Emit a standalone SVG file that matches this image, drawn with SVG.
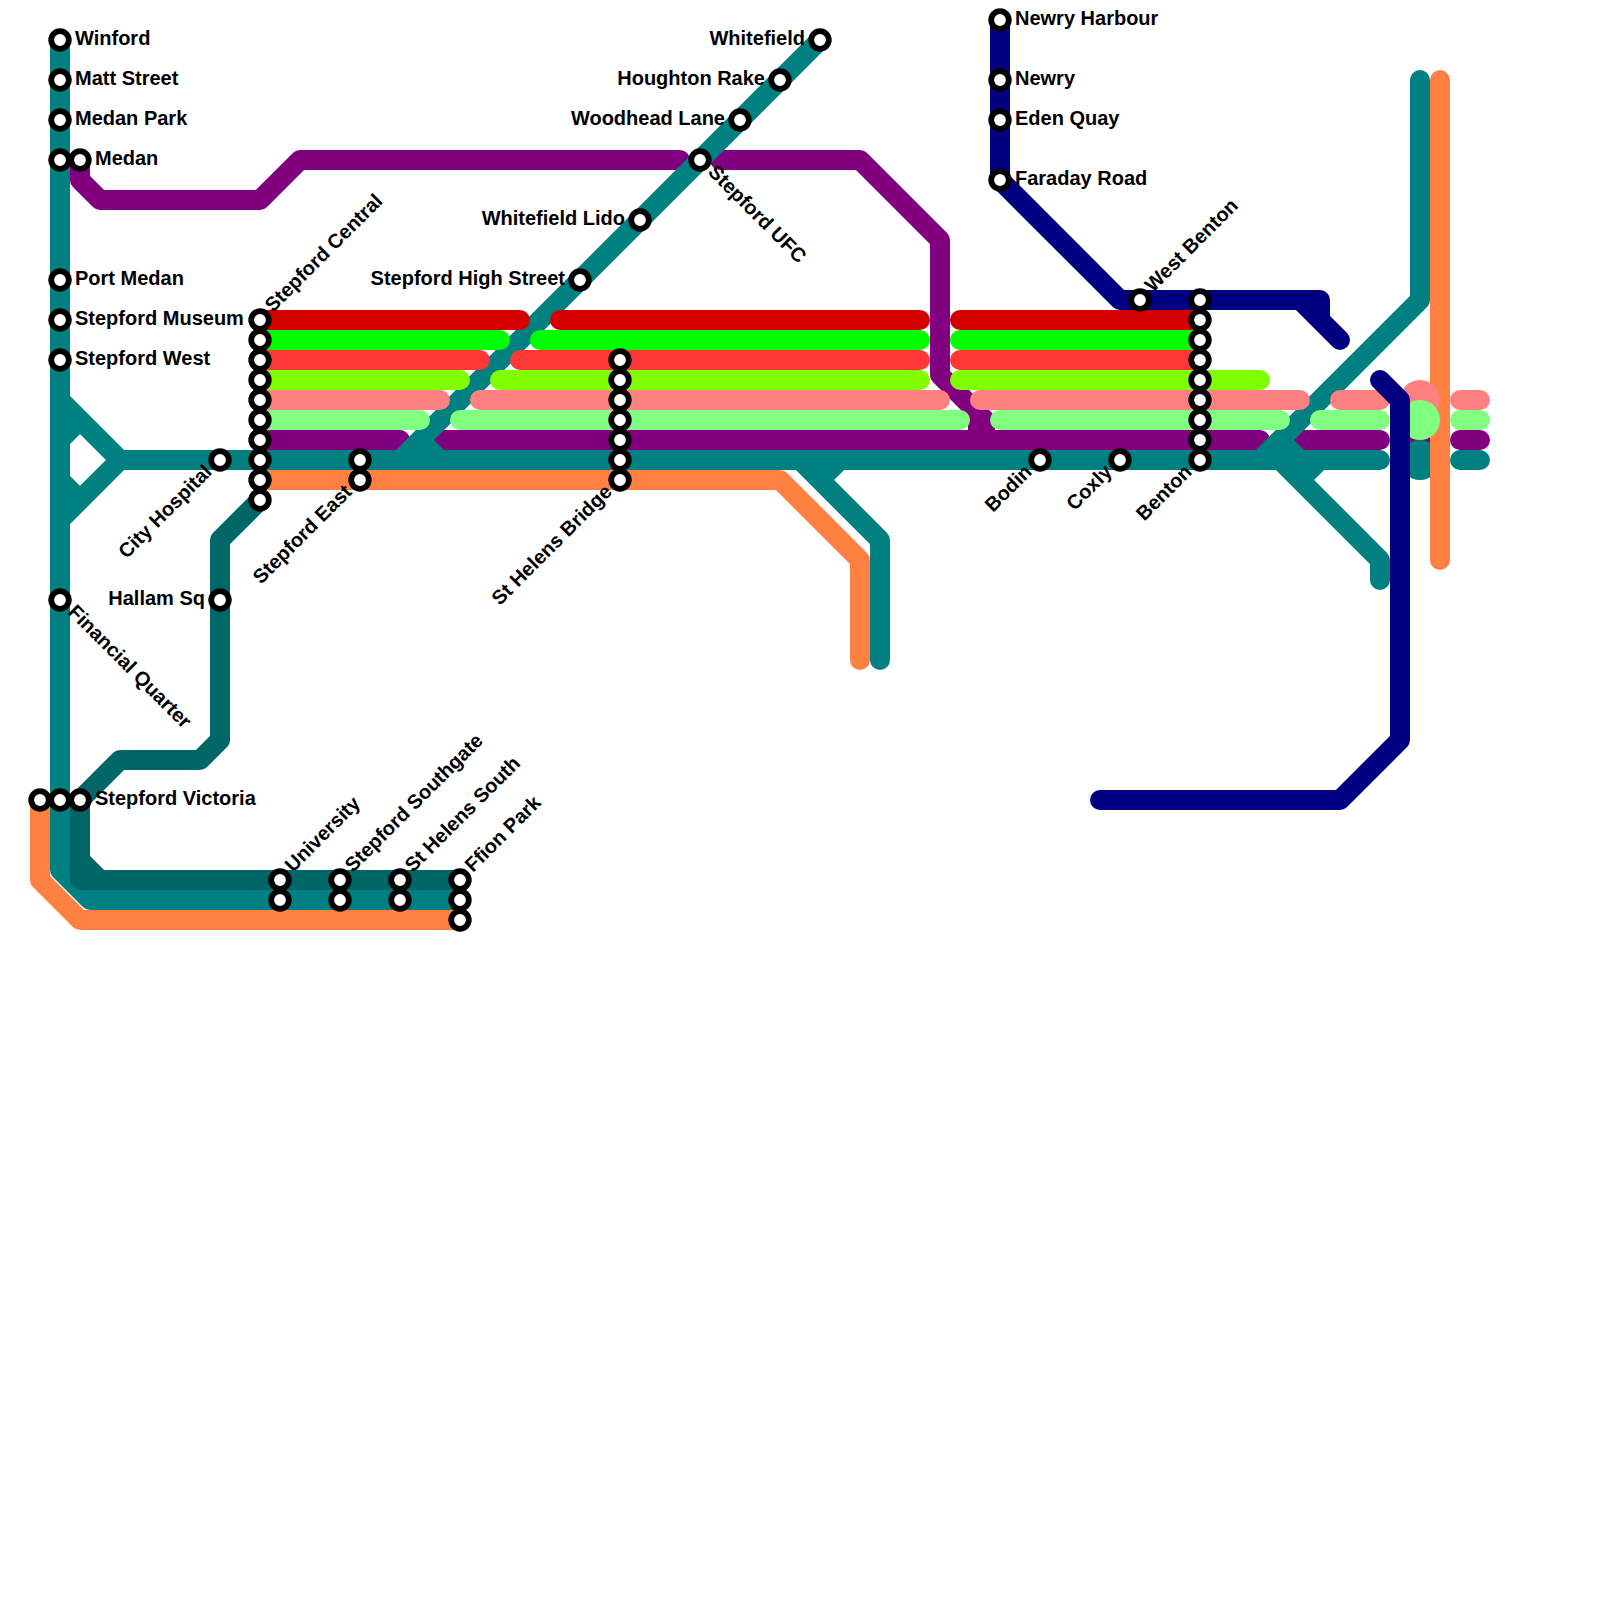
<svg xmlns="http://www.w3.org/2000/svg" width="1600" height="1600" viewBox="0 0 1600 1600">
<style>
.l{fill:none;stroke-width:20;stroke-linecap:round;stroke-linejoin:round}
.teal{stroke:#008080}.dark{stroke:#006666}.orange{stroke:#ff8040}.purple{stroke:#800080}.navy{stroke:#000080}.red{stroke:#d40000}.lime{stroke:#00ff00}.red2{stroke:#ff3737}.chart{stroke:#80ff00}.pink{stroke:#ff8080}.mint{stroke:#80ff80}
.s{fill:#fff;stroke:#000;stroke-width:5.8}
text{font-family:"Liberation Sans",Arial,sans-serif;font-size:20px;font-weight:700;fill:#000}
.e{text-anchor:end}
</style>
<rect width="1600" height="1600" fill="#fff"/>
<g id="connectors">
<circle cx="1420" cy="440" r="20" fill="#800080"/>
<circle cx="1420" cy="460" r="20" fill="#008080"/>
<path class="l orange" d="M40 800V880L80 920H460"/>
<path class="l orange" d="M260 480H780L860 560V660"/>
<path class="l orange" d="M1440 80V560"/>
<path class="l purple" d="M80 160V180L100 200H260L300 160H680M720 160H860L940 240V375L985 420V440M978 420V440"/>
<path class="l purple" d="M260 440H400M440 440H1260M1300 440H1380M1460 440H1480"/>
<path class="l teal" d="M60 40V870L90 900H460"/>
<path class="l teal" d="M60 400L120 460L60 520M60 440L80 420M60 480L80 500"/>
<path class="l teal" d="M120 460H1380M1460 460H1480"/>
<path class="l teal" d="M820 40L400 460M420 440L440 460"/>
<path class="l teal" d="M800 460L880 540V660M840 460L820 480"/>
<path class="l teal" d="M1420 80V300L1260 460M1280 440L1300 460M1280 460L1380 560V580M1320 460L1300 480"/>
<path class="l red" d="M260 320H520M560 320H920M960 320H1200"/>
<path class="l lime" d="M260 340H500M540 340H920M960 340H1200"/>
<path class="l red2" d="M260 360H480M520 360H920M960 360H1200"/>
<path class="l chart" d="M260 380H460M500 380H920M960 380H1260"/>
<circle cx="1420" cy="400" r="20" fill="#ff8080"/>
<circle cx="1420" cy="420" r="20" fill="#80ff80"/>
<path class="l pink" d="M260 400H440M480 400H940M980 400H1300M1340 400H1380M1460 400H1480"/>
<path class="l mint" d="M260 420H420M460 420H960M1000 420H1280M1320 420H1380M1460 420H1480"/>
<path class="l dark" d="M260 500L220 540V740L200 760H120L80 800V880H460M80 860L100 880"/>
<path class="l navy" d="M1000 20V180L1120 300H1320V320L1340 340M1300 300L1320 320"/>
<path class="l navy" d="M1380 380L1400 400V740L1340 800H1100"/>
</g>
<g id="n-winford"><circle class="s" cx="60" cy="40" r="8.8"/><text x="75" y="45">Winford</text></g>
<g id="n-matt-street"><circle class="s" cx="60" cy="80" r="8.8"/><text x="75" y="85">Matt Street</text></g>
<g id="n-medan-park"><circle class="s" cx="60" cy="120" r="8.8"/><text x="75" y="125">Medan Park</text></g>
<g id="n-medan"><circle class="s" cx="60" cy="160" r="8.8"/><circle class="s" cx="80" cy="160" r="8.8"/><text x="95" y="165">Medan</text></g>
<g id="n-port-medan"><circle class="s" cx="60" cy="280" r="8.8"/><text x="75" y="285">Port Medan</text></g>
<g id="n-stepford-museum"><circle class="s" cx="60" cy="320" r="8.8"/><text x="75" y="325">Stepford Museum</text></g>
<g id="n-stepford-west"><circle class="s" cx="60" cy="360" r="8.8"/><text x="75" y="365">Stepford West</text></g>
<g id="n-financial-quarter"><circle class="s" cx="60" cy="600" r="8.8"/><text transform="translate(67 613) rotate(45)">Financial Quarter</text></g>
<g id="n-stepford-victoria"><circle class="s" cx="40" cy="800" r="8.8"/><circle class="s" cx="60" cy="800" r="8.8"/><circle class="s" cx="80" cy="800" r="8.8"/><text x="95" y="805">Stepford Victoria</text></g>
<g id="n-hallam-sq"><circle class="s" cx="220" cy="600" r="8.8"/><text class="e" x="205" y="605">Hallam Sq</text></g>
<g id="n-city-hospital"><circle class="s" cx="220" cy="460" r="8.8"/><text class="e" transform="translate(213 473) rotate(-45)">City Hospital</text></g>
<g id="n-stepford-central"><circle class="s" cx="260" cy="320" r="8.8"/><circle class="s" cx="260" cy="340" r="8.8"/><circle class="s" cx="260" cy="360" r="8.8"/><circle class="s" cx="260" cy="380" r="8.8"/><circle class="s" cx="260" cy="400" r="8.8"/><circle class="s" cx="260" cy="420" r="8.8"/><circle class="s" cx="260" cy="440" r="8.8"/><circle class="s" cx="260" cy="460" r="8.8"/><circle class="s" cx="260" cy="480" r="8.8"/><circle class="s" cx="260" cy="500" r="8.8"/><text transform="translate(273 313) rotate(-45)">Stepford Central</text></g>
<g id="n-stepford-east"><circle class="s" cx="360" cy="460" r="8.8"/><circle class="s" cx="360" cy="480" r="8.8"/><text class="e" transform="translate(353 493) rotate(-45)">Stepford East</text></g>
<g id="n-st-helens-bridge"><circle class="s" cx="620" cy="360" r="8.8"/><circle class="s" cx="620" cy="380" r="8.8"/><circle class="s" cx="620" cy="400" r="8.8"/><circle class="s" cx="620" cy="420" r="8.8"/><circle class="s" cx="620" cy="440" r="8.8"/><circle class="s" cx="620" cy="460" r="8.8"/><circle class="s" cx="620" cy="480" r="8.8"/><text class="e" transform="translate(613 493) rotate(-45)">St Helens Bridge</text></g>
<g id="n-stepford-high-street"><circle class="s" cx="580" cy="280" r="8.8"/><text class="e" x="565" y="285">Stepford High Street</text></g>
<g id="n-whitefield-lido"><circle class="s" cx="640" cy="220" r="8.8"/><text class="e" x="625" y="225">Whitefield Lido</text></g>
<g id="n-stepford-ufc"><circle class="s" cx="700" cy="160" r="8.8"/><text transform="translate(707 173) rotate(45)">Stepford UFC</text></g>
<g id="n-woodhead-lane"><circle class="s" cx="740" cy="120" r="8.8"/><text class="e" x="725" y="125">Woodhead Lane</text></g>
<g id="n-houghton-rake"><circle class="s" cx="780" cy="80" r="8.8"/><text class="e" x="765" y="85">Houghton Rake</text></g>
<g id="n-whitefield"><circle class="s" cx="820" cy="40" r="8.8"/><text class="e" x="805" y="45">Whitefield</text></g>
<g id="n-newry-harbour"><circle class="s" cx="1000" cy="20" r="8.8"/><text x="1015" y="25">Newry Harbour</text></g>
<g id="n-newry"><circle class="s" cx="1000" cy="80" r="8.8"/><text x="1015" y="85">Newry</text></g>
<g id="n-eden-quay"><circle class="s" cx="1000" cy="120" r="8.8"/><text x="1015" y="125">Eden Quay</text></g>
<g id="n-faraday-road"><circle class="s" cx="1000" cy="180" r="8.8"/><text x="1015" y="185">Faraday Road</text></g>
<g id="n-west-benton"><circle class="s" cx="1140" cy="300" r="8.8"/><text transform="translate(1153 293) rotate(-45)">West Benton</text></g>
<g id="n-bodin"><circle class="s" cx="1040" cy="460" r="8.8"/><text class="e" transform="translate(1033 473) rotate(-45)">Bodin</text></g>
<g id="n-coxly"><circle class="s" cx="1120" cy="460" r="8.8"/><text class="e" transform="translate(1113 473) rotate(-45)">Coxly</text></g>
<g id="n-benton"><circle class="s" cx="1200" cy="300" r="8.8"/><circle class="s" cx="1200" cy="320" r="8.8"/><circle class="s" cx="1200" cy="340" r="8.8"/><circle class="s" cx="1200" cy="360" r="8.8"/><circle class="s" cx="1200" cy="380" r="8.8"/><circle class="s" cx="1200" cy="400" r="8.8"/><circle class="s" cx="1200" cy="420" r="8.8"/><circle class="s" cx="1200" cy="440" r="8.8"/><circle class="s" cx="1200" cy="460" r="8.8"/><text class="e" transform="translate(1193 473) rotate(-45)">Benton</text></g>
<g id="n-university"><circle class="s" cx="280" cy="880" r="8.8"/><circle class="s" cx="280" cy="900" r="8.8"/><text transform="translate(293 873) rotate(-45)">University</text></g>
<g id="n-stepford-southgate"><circle class="s" cx="340" cy="880" r="8.8"/><circle class="s" cx="340" cy="900" r="8.8"/><text transform="translate(353 873) rotate(-45)">Stepford Southgate</text></g>
<g id="n-st-helens-south"><circle class="s" cx="400" cy="880" r="8.8"/><circle class="s" cx="400" cy="900" r="8.8"/><text transform="translate(413 873) rotate(-45)">St Helens South</text></g>
<g id="n-ffion-park"><circle class="s" cx="460" cy="880" r="8.8"/><circle class="s" cx="460" cy="900" r="8.8"/><circle class="s" cx="460" cy="920" r="8.8"/><text transform="translate(473 873) rotate(-45)">Ffion Park</text></g>
</svg>
